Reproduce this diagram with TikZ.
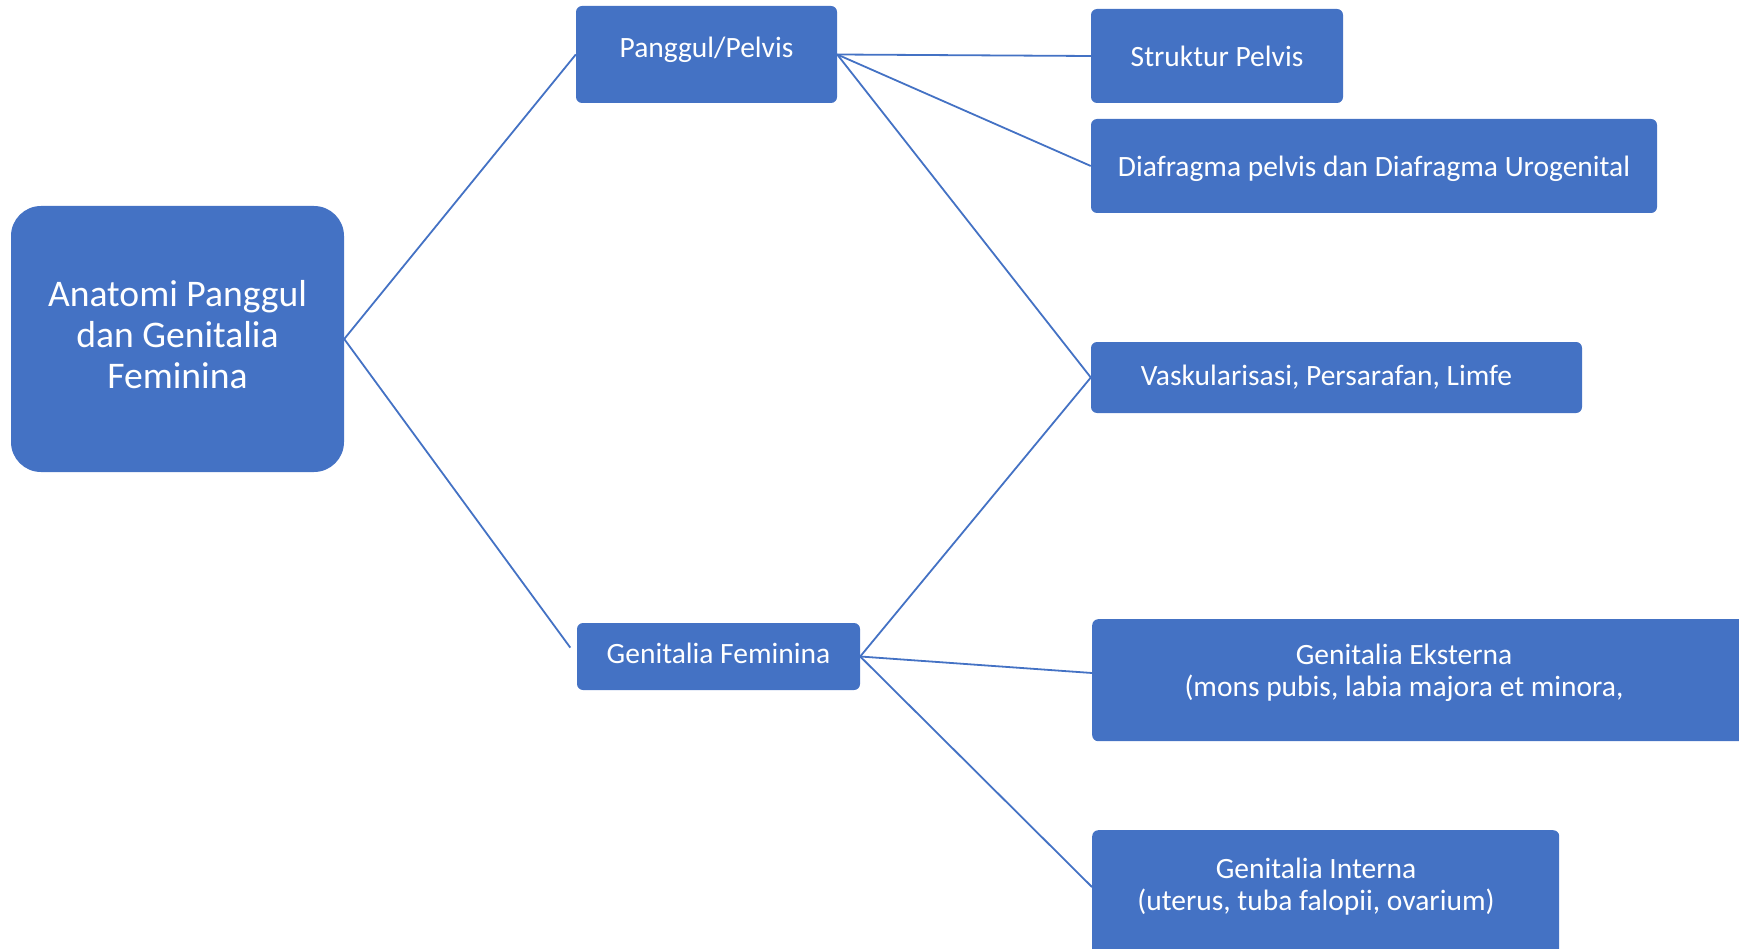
\documentclass[tikz,border=0pt]{standalone}
\usepackage{fontspec}
\setmainfont{Carlito}
\definecolor{biru}{HTML}{4472C4}
\tikzset{
  kotak/.style={fill=biru, text=white, rounded corners=6pt, inner sep=0pt, align=center, font=\fontsize{29.5}{32}\selectfont},
  teks/.style={text=white, align=center, inner sep=0pt, font=\fontsize{29.5}{32}\selectfont},
  garis/.style={biru, line width=1.8pt},
}
\begin{document}
\begin{tikzpicture}[x=1pt, y=-1pt]
	\useasboundingbox (0,0) rectangle (1739,949);
	% boxes
	\node[kotak, rounded corners=30pt, minimum width=333pt, minimum height=266pt, text depth=9pt, font=\fontsize{37.6}{41}\selectfont] (root) at (177.5,339) {Anatomi Panggul\\dan Genitalia\\Feminina};
	\node[kotak, minimum width=261pt, minimum height=97pt, text depth=14pt] (pelvis) at (706.5,54.5) {Panggul/Pelvis};
	\node[kotak, minimum width=283pt, minimum height=67pt, text depth=6.6pt] (genfem) at (718.5,656.5) {Genitalia Feminina};
	\node[kotak, minimum width=252pt, minimum height=94pt] (struktur) at (1217,56) {Struktur Pelvis};
	\node[kotak, minimum width=566pt, minimum height=94pt, text height=25.6pt] (diafragma) at (1374,166) {Diafragma pelvis dan Diafragma Urogenital};
	\node[kotak, minimum width=491pt, minimum height=71pt] (vask) at (1336.5,377.5) {Vaskularisasi, Persarafan, Limfe\hspace*{20pt}};
	\node[kotak, minimum width=680pt, minimum height=122pt, anchor=north west] (eks) at (1092,619) {};
	\node[teks] (eks-t) at (1404,673) {Genitalia Eksterna\\(mons pubis, labia majora et minora,};
	\node[kotak, minimum width=467pt, minimum height=130pt, anchor=north west] (int) at (1092,830) {};
	\node[teks] (int-t) at (1316,887) {Genitalia Interna\\(uterus, tuba falopii, ovarium)};
	% connectors
	\draw[garis] (root.east) -- (pelvis.west);
	\draw[garis, shorten >=11pt] (root.east) -- (genfem.west);
	\draw[garis] (pelvis.east) -- (struktur.west);
	\draw[garis] (pelvis.east) -- (diafragma.west);
	\draw[garis] (pelvis.east) -- (vask.west);
	\draw[garis] (genfem.east) -- (vask.west);
	\draw[garis] (genfem.east) -- (eks.west |- eks-t);
	\draw[garis] (genfem.east) -- (int.west |- int-t);
\end{tikzpicture}
\end{document}
